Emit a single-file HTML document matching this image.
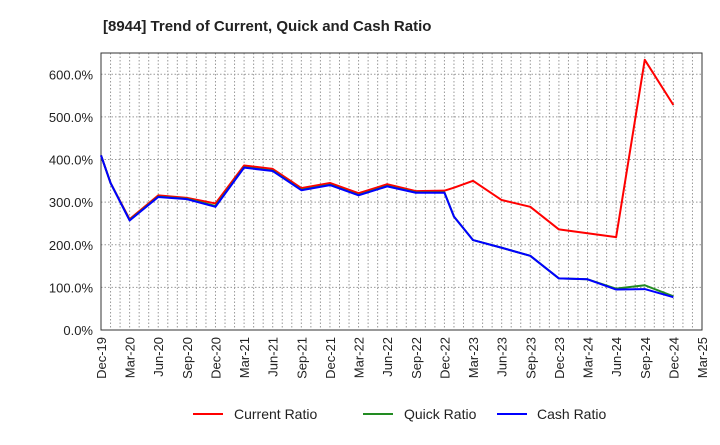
<!DOCTYPE html>
<html><head><meta charset="utf-8"><style>
body{margin:0;background:#fff;font-family:"Liberation Sans",Arial,sans-serif}
</style></head><body>
<svg id="chart" width="720" height="440" xmlns="http://www.w3.org/2000/svg" font-family="Liberation Sans, Arial, sans-serif">
<text x="103" y="31" font-size="15" font-weight="bold" fill="#222">[8944]  Trend of Current, Quick and Cash Ratio</text>
<g id="grid"></g><g id="axes"></g><g id="series"></g>
<g font-size="14" fill="#222">
<line x1="193" y1="414" x2="223" y2="414" stroke="#f00" stroke-width="2"/><text x="234" y="419">Current Ratio</text>
<line x1="363" y1="414" x2="393" y2="414" stroke="#228b22" stroke-width="2"/><text x="404" y="419">Quick Ratio</text>
<line x1="497" y1="414" x2="527" y2="414" stroke="#00f" stroke-width="2"/><text x="537" y="419">Cash Ratio</text>
</g>
</svg>
<script>
const months=[0,1,3,6,9,12,15,18,21,24,27,30,33,36,37,39,42,45,48,51,54,57,60];
const current=[410,345,260,316,310,297,386,378,333,345,321,342,326,327,334,350,305,289,236,227,218,634,528];
const quick=[410,345,258,313,308,291,382,374,329,341,317,338,323,323,266,211,193,174,121,119,97,105,79];
const cash=[410,345,257,312,307,289,381,373,328,340,316,337,322,322,266,211,193,174,121,119,95,96,77];
const yTicks=[0,100,200,300,400,500,600];
const xLabels=["Dec-19","Mar-20","Jun-20","Sep-20","Dec-20","Mar-21","Jun-21","Sep-21","Dec-21","Mar-22","Jun-22","Sep-22","Dec-22","Mar-23","Jun-23","Sep-23","Dec-23","Mar-24","Jun-24","Sep-24","Dec-24","Mar-25"];
const L=101,R=702,T=53,B=330,NM=63;
const x=m=>L+(R-L)*m/NM;
const y=v=>B-(B-74.3)*v/600;
const ns="http://www.w3.org/2000/svg";
function mk(tag,attrs,parent){const e=document.createElementNS(ns,tag);for(const k in attrs)e.setAttribute(k,attrs[k]);document.getElementById(parent).appendChild(e);return e;}
for(let m=1;m<NM;m++){const g=mk('line',{x1:x(m),x2:x(m),y1:T,y2:B,stroke:'#999','stroke-width':1,'stroke-dasharray':'1.5,2'},'grid');

}
yTicks.forEach(v=>{const g=mk('line',{x1:L,x2:R,y1:y(v),y2:y(v),stroke:'#999','stroke-width':1,'stroke-dasharray':'1.5,2'},'grid');


const t=mk('text',{x:L-8,y:y(v)+5,'text-anchor':'end','font-size':13,fill:'#222'},'axes');t.textContent=v.toFixed(1)+'%';

});
xLabels.forEach((s,i)=>{const xx=x(i*3);const t=mk('text',{transform:`translate(${xx+5},337) rotate(-90)`,'text-anchor':'end','font-size':13,fill:'#222'},'axes');t.textContent=s;

});
const fr=mk('rect',{x:L,y:T,width:R-L,height:B-T,fill:'none',stroke:'#333','stroke-width':1},'axes');


[[current,'#f00','current-ratio-line'],[quick,'#228b22','quick-ratio-line'],[cash,'#00f','cash-ratio-line']].forEach(([d,c,n])=>{
const p=mk('polyline',{points:d.map((v,i)=>x(months[i])+','+y(v)).join(' '),fill:'none',stroke:c,'stroke-width':2,'stroke-linejoin':'round'},'series');

});
</script>
</body></html>
